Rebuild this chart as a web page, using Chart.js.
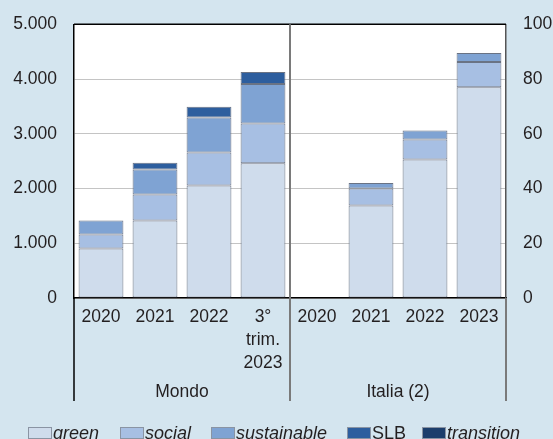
<!DOCTYPE html>
<html>
<head>
<meta charset="utf-8">
<script src="https://cdn.jsdelivr.net/npm/chart.js"></script>
<style>
  html, body { margin: 0; padding: 0; background: #d4e5ef; }
  #wrap { position: relative; width: 553px; height: 439px; overflow: hidden; }
  #legend { position: absolute; left: 0; top: 423px; font: 18px "Liberation Sans", Arial, sans-serif; color: #231f20; }
  #legend .item { position: absolute; white-space: nowrap; }
  #legend .box { position: absolute; top: 4px; width: 22px; height: 10px; border: 1px solid #8a94a3; }
  #legend .lbl { position: absolute; top: 0; }
</style>
</head>
<body>
<div id="wrap">
  <canvas id="bondChart" width="553" height="439"></canvas>
  <div id="legend"></div>
</div>
<script>
const categories = ["2020", "2021", "2022", ["3°", "trim.", "2023"], "2020", "2021", "2022", "2023"];
const groups = ["Mondo", "Italia (2)"];
const seriesNames = ["green", "social", "sustainable", "SLB", "transition"];
const seriesItalic = [true, true, true, false, true];
const seriesColors = ["#cfdcec", "#a7bfe3", "#7fa3d3", "#2d5e9e", "#1c3e6c"];

// Mondo (left axis), Italia (right axis)
const mondoGreen = [902, 1415, 2055, 2463];
const mondoSocial = [257, 475, 604, 726];
const mondoSustainable = [256, 458, 640, 720];
const mondoSLB = [null, 122, 195, 219];
const mondoTransition = [null, null, null, null];

const italiaGreen = [null, 33.8, 50.6, 77.0];
const italiaSocial = [null, 6.2, 7.3, 9.2];
const italiaSustainable = [null, 2.0, 3.3, 3.3];
const italiaSLB = [null, null, null, null];
const italiaTransition = [null, null, null, null];

const leftTicks = ["0", "1.000", "2.000", "3.000", "4.000", "5.000"];
const rightTicks = ["0", "20", "40", "60", "80", "100"];

const mondo = [mondoGreen, mondoSocial, mondoSustainable, mondoSLB, mondoTransition];
const italia = [italiaGreen, italiaSocial, italiaSustainable, italiaSLB, italiaTransition];
const empty = [null, null, null, null];

const FONT = "'Liberation Sans', Arial, sans-serif";
const datasets = [];
seriesNames.forEach((name, i) => {
  datasets.push({
    label: name,
    data: mondo[i].concat(empty),
    yAxisID: "y",
    stack: "a",
    backgroundColor: seriesColors[i],
    borderColor: "rgba(80, 90, 110, 0.85)",
    borderWidth: 1,
    borderSkipped: false,
    barPercentage: 0.83,
    categoryPercentage: 1,
  });
});
seriesNames.forEach((name, i) => {
  datasets.push({
    label: name + " (Italia)",
    data: empty.concat(italia[i]),
    yAxisID: "y2",
    stack: "a",
    backgroundColor: seriesColors[i],
    borderColor: "rgba(80, 90, 110, 0.85)",
    borderWidth: 1,
    borderSkipped: false,
    barPercentage: 0.83,
    categoryPercentage: 1,
  });
});

const framePlugin = {
  id: "frame",
  beforeDraw(chart) {
    const { ctx, chartArea: a } = chart;
    ctx.save();
    ctx.fillStyle = "#ffffff";
    ctx.fillRect(a.left, a.top, a.right - a.left, a.bottom - a.top);
    ctx.restore();
  },
  afterDraw(chart) {
    const { ctx, chartArea: a } = chart;
    const x = chart.scales.x;
    const mid = (x.getPixelForTick(3) + x.getPixelForTick(4)) / 2;
    const lineBottom = 401;
    ctx.save();
    // top border
    ctx.strokeStyle = "#000";
    ctx.lineWidth = 1.5;
    ctx.beginPath();
    ctx.moveTo(a.left, a.top);
    ctx.lineTo(a.right, a.top);
    ctx.stroke();
    // group separators
    ctx.beginPath();
    ctx.moveTo(a.left, a.bottom);
    ctx.lineTo(a.left, lineBottom);
    ctx.stroke();
    ctx.strokeStyle = "#7a7a7a";
    ctx.lineWidth = 2;
    ctx.beginPath();
    ctx.moveTo(mid, a.top);
    ctx.lineTo(mid, lineBottom);
    ctx.moveTo(a.right, a.bottom);
    ctx.lineTo(a.right, lineBottom);
    ctx.stroke();
    // group labels
    ctx.fillStyle = "#231f20";
    ctx.font = "17.5px " + FONT;
    ctx.textAlign = "center";
    ctx.textBaseline = "middle";
    ctx.fillText(groups[0], (a.left + mid) / 2, 392);
    ctx.fillText(groups[1], (mid + a.right) / 2, 392);
    ctx.restore();
  },
};

new Chart(document.getElementById("bondChart"), {
  type: "bar",
  data: { labels: categories, datasets: datasets },
  options: {
    responsive: false,
    animation: false,
    layout: { padding: { top: 24.3, left: 0, right: 0, bottom: 0 } },
    plugins: {
      legend: { display: false },
      tooltip: { enabled: false },
    },
    scales: {
      x: {
        stacked: true,
        grid: { display: false, drawTicks: false },
        border: { color: "#000", width: 1.5 },
        ticks: {
          color: "#231f20",
          font: { size: 17.5, family: FONT, lineHeight: 1.3 },
          padding: 8,
          maxRotation: 0,
          autoSkip: false,
        },
        afterFit: (s) => { s.height = 141; },
      },
      y: {
        stacked: true,
        position: "left",
        min: 0,
        max: 5000,
        grid: { color: "#c4c4c4", lineWidth: 1, tickLength: 13, tickColor: "rgba(0,0,0,0)" },
        border: { color: "#000", width: 1.5 },
        ticks: {
          stepSize: 1000,
          color: "#231f20",
          font: { size: 17.5, family: FONT },
          padding: 4,
          callback: (v, i) => leftTicks[i],
        },
        afterFit: (s) => { s.width = 74; },
      },
      y2: {
        stacked: true,
        position: "right",
        min: 0,
        max: 100,
        grid: { drawOnChartArea: false, color: "rgba(0,0,0,0)", tickLength: 13, tickColor: "rgba(0,0,0,0)" },
        border: { color: "#555", width: 1.5 },
        ticks: {
          stepSize: 20,
          color: "#231f20",
          font: { size: 17.5, family: FONT },
          padding: 4,
          callback: (v, i) => rightTicks[i],
        },
        afterFit: (s) => { s.width = 47; },
      },
    },
  },
  plugins: [framePlugin],
});

// legend
const legendX = [28, 120, 211, 347, 422];
const legend = document.getElementById("legend");
seriesNames.forEach((name, i) => {
  const item = document.createElement("div");
  item.className = "item";
  item.style.left = legendX[i] + "px";
  item.innerHTML =
    '<span class="box" style="left:0;background:' + seriesColors[i] + '"></span>' +
    '<span class="lbl" style="left:25px;font-style:' + (seriesItalic[i] ? "italic" : "normal") + '">' + name + "</span>";
  legend.appendChild(item);
});
</script>
</body>
</html>
